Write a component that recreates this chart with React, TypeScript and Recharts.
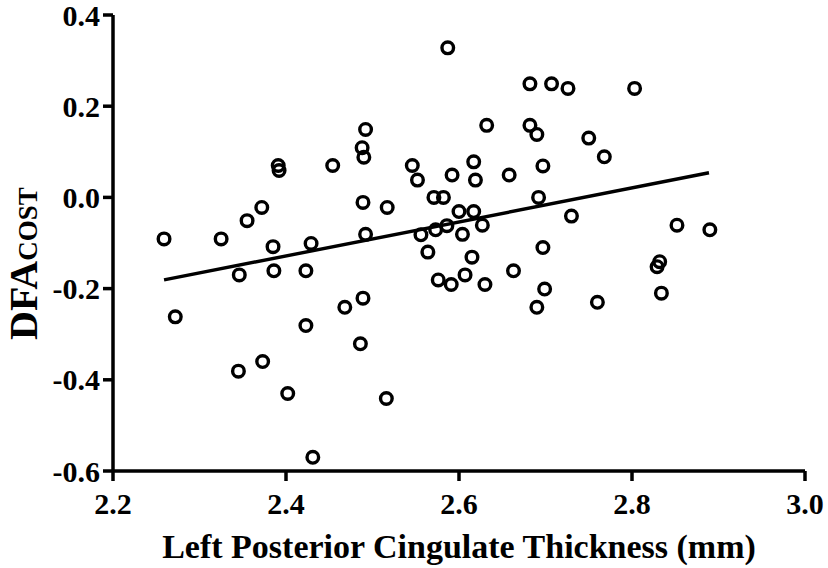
import React from "react";
import { ScatterChart, Scatter, XAxis, YAxis } from "recharts";

const xValues = [
  2.259, 2.272, 2.325, 2.345, 2.346, 2.355, 2.372, 2.373, 2.385, 2.386,
  2.391, 2.392, 2.402, 2.423, 2.423, 2.429, 2.431, 2.454, 2.468, 2.486,
  2.488, 2.489, 2.489, 2.49, 2.492, 2.492, 2.516, 2.517, 2.546, 2.552,
  2.556, 2.564, 2.571, 2.573, 2.576, 2.582, 2.586, 2.587, 2.591, 2.592,
  2.6, 2.604, 2.607, 2.615, 2.617, 2.617, 2.619, 2.627, 2.63, 2.632,
  2.658, 2.663, 2.682, 2.682, 2.69, 2.69, 2.692, 2.697, 2.697, 2.699,
  2.707, 2.726, 2.73, 2.75, 2.76, 2.768, 2.803, 2.829, 2.832, 2.834,
  2.852, 2.89,
];
const yValues = [
  -0.091, -0.262, -0.091, -0.381, -0.17, -0.051, -0.022, -0.36, -0.108, -0.161,
  0.07, 0.059, -0.43, -0.161, -0.281, -0.101, -0.57, 0.07, -0.241, -0.321,
  0.109, -0.011, -0.221, 0.088, 0.149, -0.081, -0.441, -0.022, 0.07, 0.038,
  -0.082, -0.12, 0.0, -0.071, -0.181, 0.0, -0.062, 0.328, -0.191, 0.049,
  -0.031, -0.081, -0.17, -0.131, 0.078, -0.031, 0.038, -0.061, -0.191, 0.158,
  0.049, -0.161, 0.249, 0.158, 0.138, -0.241, 0.0, 0.069, -0.11, -0.201,
  0.249, 0.239, -0.041, 0.13, -0.23, 0.089, 0.239, -0.152, -0.141, -0.21,
  -0.061, -0.071,
];
const fitX = [2.259, 2.889];
const fitY = [-0.181, 0.054];
const xTicks = [2.2, 2.4, 2.6, 2.8, 3.0];
const yTicks = [-0.6, -0.4, -0.2, 0.0, 0.2, 0.4];

const points = xValues.map((x, i) => ({ x, y: yValues[i] }));
const fitLine = fitX.map((x, i) => ({ x, y: fitY[i] }));

const FONT = "'Liberation Serif', 'Times New Roman', serif";

const Ring = (props: any) => {
  const { cx, cy } = props;
  if (cx == null || cy == null) return <g />;
  return <circle cx={cx} cy={cy} r={5.8} fill="none" stroke="#000" strokeWidth={3.4} />;
};

const Nothing = () => <g />;

const XTick = (props: any) => {
  const { x, y, payload } = props;
  return (
    <text
      x={x}
      y={y}
      dy="0.71em"
      textAnchor="middle"
      fontFamily={FONT}
      fontWeight="bold"
      fontSize={30}
      fill="#000"
    >
      {Number(payload.value).toFixed(1)}
    </text>
  );
};

const YTick = (props: any) => {
  const { x, y, payload } = props;
  return (
    <text
      x={x}
      y={y}
      dy="0.355em"
      textAnchor="end"
      fontFamily={FONT}
      fontWeight="bold"
      fontSize={30}
      fill="#000"
    >
      {Number(payload.value).toFixed(1)}
    </text>
  );
};

const YTitle = (props: any) => {
  const vb = props.viewBox || {};
  const x = 37;
  const y = (vb.y ?? 15) + 325;
  return (
    <text
      x={x}
      y={y}
      transform={`rotate(-90 ${x} ${y})`}
      fontFamily={FONT}
      fontWeight="bold"
      fill="#000"
      textAnchor="start"
    >
      <tspan fontSize={40}>DFA</tspan>
      <tspan fontSize={27}>COST</tspan>
    </text>
  );
};

const XTitle = (props: any) => {
  const vb = props.viewBox || {};
  const cx = (vb.x ?? 113) + (vb.width ?? 692) / 2;
  return (
    <text
      x={cx}
      y={558}
      fontFamily={FONT}
      fontWeight="bold"
      fontSize={34}
      fill="#000"
      textAnchor="middle"
    >
      Left Posterior Cingulate Thickness (mm)
    </text>
  );
};

export default function App() {
  return (
    <div style={{ position: "absolute", left: 0, top: 0, width: 828, height: 568, background: "#fff" }}>
      <ScatterChart width={828} height={568} margin={{ top: 15, right: 23, bottom: 0, left: 0 }}>
        <XAxis
          type="number"
          dataKey="x"
          domain={[2.2, 3.0]}
          ticks={xTicks}
          height={97}
          tick={<XTick />}
          tickSize={10}
          tickMargin={12}
          axisLine={{ stroke: "#000", strokeWidth: 3.5 }}
          tickLine={{ stroke: "#000", strokeWidth: 3.5 }}
          allowDataOverflow
          label={<XTitle />}
        />
        <YAxis
          type="number"
          dataKey="y"
          domain={[-0.6, 0.4]}
          ticks={yTicks}
          width={113}
          tick={<YTick />}
          tickSize={10}
          tickMargin={3}
          axisLine={{ stroke: "#000", strokeWidth: 3.5 }}
          tickLine={{ stroke: "#000", strokeWidth: 3.5 }}
          allowDataOverflow
          label={<YTitle />}
        />
        <Scatter
          data={fitLine}
          line={{ stroke: "#000", strokeWidth: 3.4 }}
          shape={<Nothing />}
          isAnimationActive={false}
          legendType="none"
        />
        <Scatter data={points} shape={<Ring />} isAnimationActive={false} />
      </ScatterChart>
    </div>
  );
}
